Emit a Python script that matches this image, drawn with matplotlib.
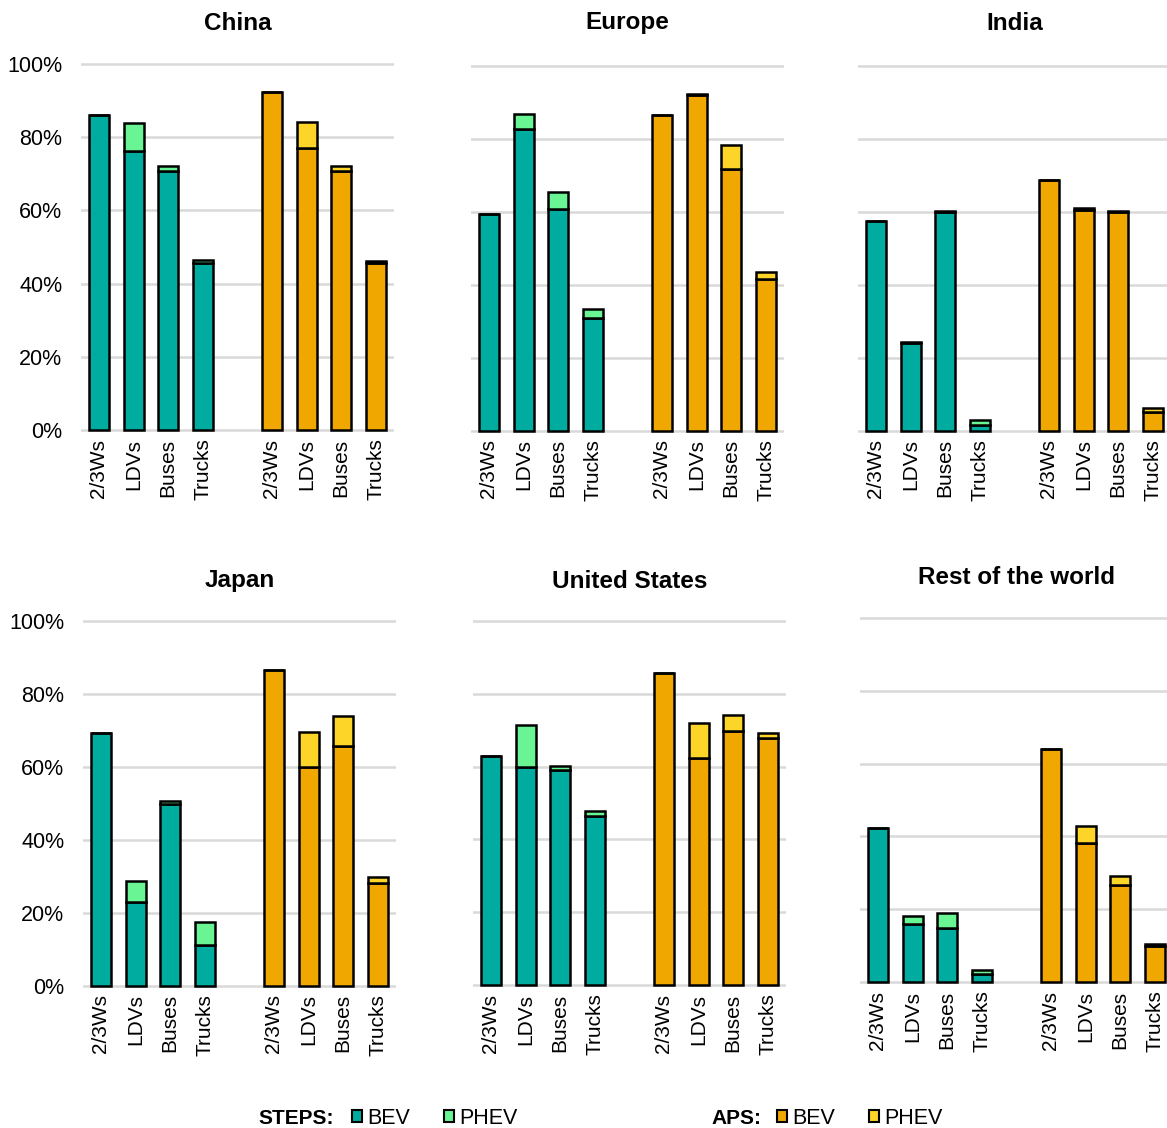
import matplotlib
matplotlib.use("Agg")
import matplotlib.pyplot as plt
from matplotlib.patches import Patch
from matplotlib.ticker import FuncFormatter

plt.rcParams['font.family'] = ['Liberation Sans', 'DejaVu Sans']

regions = ["China", "Europe", "India", "Japan", "United States", "Rest of the world"]
categories = ["2/3Ws", "LDVs", "Buses", "Trucks"]

steps_bev = [
    [86.2, 76.2, 70.7, 45.6],   # China
    [59.4, 82.6, 60.8, 30.8],   # Europe
    [57.6, 24.0, 60.0, 1.6],    # India
    [69.3, 23.1, 50.0, 11.1],   # Japan
    [63.0, 60.0, 59.2, 46.5],   # United States
    [42.3, 16.0, 14.8, 2.1],    # Rest of the world
]
steps_phev = [
    [0.0, 7.7, 1.5, 0.9],
    [0.0, 4.1, 4.5, 2.5],
    [0.0, 0.4, 0.3, 1.4],
    [0.0, 5.7, 0.8, 6.3],
    [0.0, 11.4, 1.1, 1.3],
    [0.0, 2.1, 4.2, 1.3],
]
aps_bev = [
    [92.4, 77.0, 70.8, 45.6],
    [86.5, 92.0, 71.8, 41.6],
    [68.8, 60.6, 60.0, 5.0],
    [86.5, 60.0, 65.9, 28.1],
    [85.6, 62.4, 69.9, 67.8],
    [64.0, 38.3, 26.6, 9.8],
]
aps_phev = [
    [0.0, 7.1, 1.4, 0.7],
    [0.0, 0.4, 6.5, 1.8],
    [0.0, 0.5, 0.3, 1.3],
    [0.0, 9.5, 8.2, 1.7],
    [0.0, 9.5, 4.2, 1.5],
    [0.0, 4.6, 2.6, 0.7],
]
y_ticks = [0, 20, 40, 60, 80, 100]

# colours
C_STEPS_BEV = "#00AC9F"
C_STEPS_PHEV = "#69F593"
C_APS_BEV = "#F0A800"
C_APS_PHEV = "#FDD428"

W, H = 1167, 1128
fig = plt.figure(figsize=(W / 100, H / 100), dpi=100)

# panel pixel geometry: (left, y of 100%, y of 0%)
panel_px = [
    (81, 64, 430),
    (471, 66, 430.5),
    (858, 66, 430.7),
    (83, 621.3, 985.7),
    (473, 621, 985),
    (860, 618, 982),
]
title_y = [23, 23, 23, 580, 581, 578]
unit_px = 34.6
xmin, xmax = -0.52, 8.52
ymin, ymax = -1.0, 101.0

x_steps = [0, 1, 2, 3]
x_aps = [5, 6, 7, 8]
bw = 0.58
ec = "black"
lw = 1.8

for i, reg in enumerate(regions):
    left, ytop, ybot = panel_px[i]
    ppu = (ybot - ytop) / 100.0
    ax_top = ytop - (ymax - 100) * ppu
    ax_bot = ybot + (0 - ymin) * ppu
    width_px = (xmax - xmin) * unit_px
    ax = fig.add_axes([left / W, 1 - ax_bot / H, width_px / W, (ax_bot - ax_top) / H])

    sb = steps_bev[i]
    sp = steps_phev[i]
    ab = aps_bev[i]
    ap = aps_phev[i]
    ax.bar(x_steps, sb, width=bw, color=C_STEPS_BEV, edgecolor=ec, linewidth=lw, zorder=3)
    ax.bar(x_steps, sp, width=bw, bottom=sb, color=C_STEPS_PHEV, edgecolor=ec, linewidth=lw, zorder=3)
    ax.bar(x_aps, ab, width=bw, color=C_APS_BEV, edgecolor=ec, linewidth=lw, zorder=3)
    ax.bar(x_aps, ap, width=bw, bottom=ab, color=C_APS_PHEV, edgecolor=ec, linewidth=lw, zorder=3)

    ax.set_xlim(xmin, xmax)
    ax.set_ylim(ymin, ymax)
    ax.set_yticks(y_ticks)
    ax.yaxis.set_major_formatter(FuncFormatter(lambda v, p: f"{v:.0f}%"))
    ax.grid(axis='y', color="#D9D9D9", linewidth=1.8, zorder=0)
    ax.set_axisbelow(True)
    for s in ax.spines.values():
        s.set_visible(False)
    ax.set_xticks(x_steps + x_aps)
    ax.set_xticklabels(categories + categories, rotation=90, fontsize=15)
    ax.tick_params(axis='x', length=0, pad=3.5)
    ax.tick_params(axis='y', length=0, pad=13.5, labelsize=15.5, colors='black')
    if i % 3 != 0:
        ax.tick_params(axis='y', labelleft=False)
    ax.set_facecolor('none')

    cx = (left + width_px / 2) / W
    fig.text(cx, 1 - title_y[i] / H, reg, ha='center', va='center',
             fontsize=17.5, fontweight='bold')

# Legend
ly = 1 - 1118 / H
fig.text(258 / W, ly, "STEPS:", ha='left', va='center', fontsize=15, fontweight='bold')
fig.text(711 / W, ly, "APS:", ha='left', va='center', fontsize=15, fontweight='bold')
h1 = [Patch(facecolor=C_STEPS_BEV, edgecolor=ec, linewidth=1.5, label="BEV"),
      Patch(facecolor=C_STEPS_PHEV, edgecolor=ec, linewidth=1.5, label="PHEV")]
h2 = [Patch(facecolor=C_APS_BEV, edgecolor=ec, linewidth=1.5, label="BEV"),
      Patch(facecolor=C_APS_PHEV, edgecolor=ec, linewidth=1.5, label="PHEV")]
common = dict(loc='center left', ncol=2, frameon=False, fontsize=15.5,
              handlelength=0.47, handleheight=0.47, handletextpad=0.25,
              columnspacing=1.55, borderpad=0, borderaxespad=0)
fig.legend(handles=h1, bbox_to_anchor=(352 / W, ly), **common)
fig.legend(handles=h2, bbox_to_anchor=(777 / W, ly), **common)

fig.savefig("out.png", dpi=100)
